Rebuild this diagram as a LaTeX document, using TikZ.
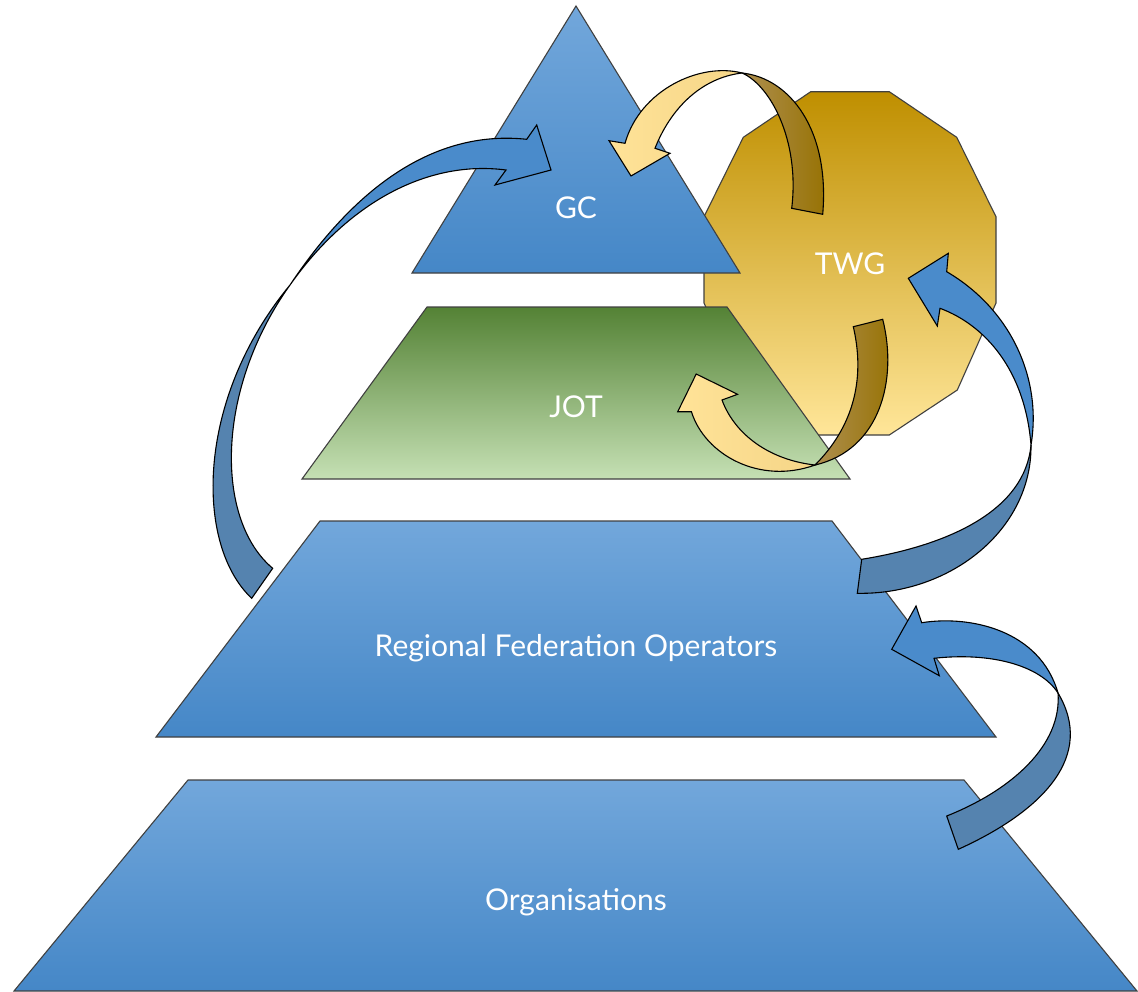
\documentclass[tikz,border=0pt]{standalone}
\usepackage{fontspec}
\setmainfont{Lato}
\definecolor{bluetop}{HTML}{72A7DB}
\definecolor{bluemid}{HTML}{5B9DDC}
\definecolor{bluebot}{HTML}{4587C7}
\definecolor{greentop}{HTML}{548235}
\definecolor{greenmid}{HTML}{98B983}
\definecolor{greenbot}{HTML}{C5E0B4}
\definecolor{goldtop}{HTML}{BF8F00}
\definecolor{goldmid}{HTML}{DDBA6C}
\definecolor{goldbot}{HTML}{FFE699}
\definecolor{arrowblue}{HTML}{4A8BCB}
\definecolor{arrowback}{HTML}{5583AF}
\definecolor{yelL}{HTML}{FFE398}
\definecolor{yelR}{HTML}{F5D587}
\definecolor{brownL}{HTML}{AE8F50}
\definecolor{brownR}{HTML}{967100}
\tikzset{
  layer/.style={draw=black!75, line width=1.1pt},
  bluelayer/.style={layer, top color=bluetop, middle color=bluemid, bottom color=bluebot},
  greenlayer/.style={layer, top color=greentop, middle color=greenmid, bottom color=greenbot},
  goldlayer/.style={layer, top color=goldtop, middle color=goldmid, bottom color=goldbot},
  arrowfront/.style={draw=black, line width=1.1pt, fill=arrowblue},
  arrowrear/.style={draw=black, line width=1.1pt, fill=arrowback},
  yellowpart/.style={draw=black, line width=1.1pt, left color=yelL, right color=yelR},
  brownpart/.style={draw=black, line width=1.1pt, left color=brownL, right color=brownR},
  lbl/.style={text=white, font=\fontsize{30}{36}\selectfont, anchor=base, inner sep=0pt}
}
\begin{document}
\begin{tikzpicture}[x=1pt,y=-1pt]
\useasboundingbox (0,0) rectangle (1138,991);
% TWG polygon
\draw[goldlayer] (810.7,91.7) -- (889.3,91.7) -- (956.7,137.3) -- (996,216.7) -- (996,303)
  -- (957.3,390) -- (889.3,435) -- (810.7,435) -- (743.3,390) -- (704,303) -- (704,216.7)
  -- (743.3,137.3) -- cycle;
% GC triangle
\draw[bluelayer] (576,6) -- (740,273) -- (412,273) -- cycle;
% JOT
\draw[greenlayer] (427,307) -- (727,307) -- (850,479) -- (302,479) -- cycle;
% RFO
\draw[bluelayer] (320,521) -- (832,521) -- (996,737) -- (156,737) -- cycle;
% Organisations
\draw[bluelayer] (188,780) -- (964,780) -- (1137,991) -- (14,991) -- cycle;
% Arrow A : RFO -> GC
\draw[arrowrear] (251.7,598.3) -- (272.7,568.3) .. controls (215,520) and (215,390) .. (290,285)
  .. controls (195,400) and (195,545) .. (251.7,598.3) -- cycle;
\draw[arrowfront] (290,285) .. controls (360,180) and (440,130) .. (526.7,139.3) -- (536.7,125)
  -- (551,170) -- (495,185) -- (506,170) .. controls (430,160) and (350,200) .. (290,285) -- cycle;
% Arrow B : TWG -> GC
\draw[yellowpart] (742,73) .. controls (700,62) and (640,90) .. (625,143.3) -- (609,140.7)
  -- (631,176) -- (670,153.3) -- (655,148.3) .. controls (670,110) and (700,78) .. (742,73) -- cycle;
\draw[brownpart] (742,73) .. controls (790,78) and (830,130) .. (822.7,214.3) -- (791.7,208.3)
  .. controls (800,140) and (770,85) .. (742,73) -- cycle;
% Arrow C : TWG -> JOT
\draw[yellowpart] (815,465) .. controls (760,485) and (705,455) .. (691.4,411.7) -- (677.7,411.7)
  -- (696.2,374) -- (737.6,394.3) -- (722,400) .. controls (735,435) and (770,460) .. (815,465) -- cycle;
\draw[brownpart] (815,465) .. controls (880,450) and (898,380) .. (882.7,319.3) -- (853.3,326.7)
  .. controls (868,390) and (845,435) .. (815,465) -- cycle;
% Arrow D : RFO -> TWG
\draw[arrowrear] (857.3,593.3) .. controls (950,595) and (1032,530) .. (1031,445)
  .. controls (1025,510) and (950,545) .. (861.7,559.3) -- cycle;
\draw[arrowfront] (1031,445) .. controls (1042,380) and (1012,310) .. (946.7,271.7) -- (948.3,253.3)
  -- (908.3,278.3) -- (937.3,326) -- (940,308.3) .. controls (985,325) and (1025,370) .. (1031,445) -- cycle;
% Arrow E : Organisations -> RFO
\draw[arrowrear] (958.3,849.3) .. controls (1045,810) and (1095,755) .. (1058,693)
  .. controls (1062,745) and (1012,790) .. (946.7,816) -- cycle;
\draw[arrowfront] (1058,693) .. controls (1040,630) and (970,615) .. (921.7,622.7) -- (916,606)
  -- (891.7,649.3) -- (939.3,675.7) -- (934,658.3) .. controls (990,652) and (1040,665) .. (1058,693) -- cycle;
% labels
\node[lbl] (gc) at (576,218) {GC};
\node[lbl] (jot) at (576,417) {JOT};
\node[lbl] (twg) at (850,274) {TWG};
\node[lbl] (rfo) at (576,656) {Regional Federation Operators};
\node[lbl] (org) at (576,910) {Organisations};
\end{tikzpicture}
\end{document}
